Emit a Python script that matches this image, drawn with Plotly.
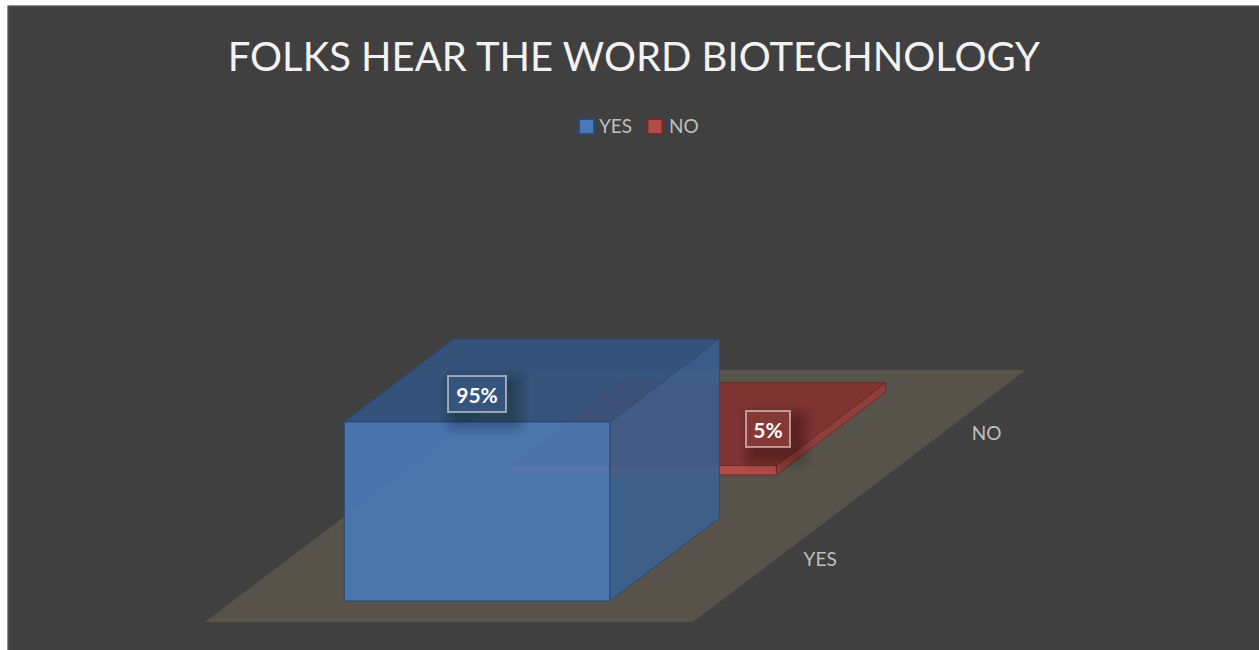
import plotly.graph_objects as go

# chart data
categories = ["YES", "NO"]
values = [95, 5]
labels = ["95%", "5%"]
title_text = "FOLKS HEAR THE WORD BIOTECHNOLOGY"

# colours per series: top, front, side, back, edge
colors = {
    "YES": ["rgba(50,85,132,0.86)", "rgba(73,122,183,0.90)", "rgba(58,97,145,0.88)",
            "rgba(60,100,150,0.05)", "#2C4A73"],
    "NO": ["#7E3432", "#B14C47", "#8E3F3B", "rgba(0,0,0,0)", "#6E2A28"],
}
label_fill = {"YES": "#36557E", "NO": "#863835"}
label_shift = {"YES": (-55, 13), "NO": (70, 5)}
legend_x = {"YES": 586.5, "NO": 655}
legend_text_x = {"YES": 597, "NO": 666.5}

BG = "#404040"
FLOOR = "#57534A"
TEXT = "#BFBFBF"
FONT = "Lato"

# oblique projection of the 3D bar scene onto the picture
ORIGIN = (205, 622)
FLOOR_W = 488
DEPTH = (166.5, -126)
PX_PER_PCT = 1.884
BAR_X = (0.2285, 0.7725)
BAR_D = (0.167, 0.825)


def project(x, d, h=0):
    return (ORIGIN[0] + FLOOR_W * x + DEPTH[0] * d,
            ORIGIN[1] + DEPTH[1] * d - PX_PER_PCT * h)


def face(pts, fill, edge=None, width=1):
    xy = [project(*p) for p in pts + pts[:1]]
    return go.Scatter(
        x=[p[0] for p in xy], y=[p[1] for p in xy],
        mode="lines", fill="toself", fillcolor=fill,
        line=dict(color=edge or "rgba(0,0,0,0)", width=width),
        hoverinfo="skip", showlegend=False,
    )


def bar_faces(i, cat, val):
    x0, x1 = BAR_X
    d0, d1 = i + BAR_D[0], i + BAR_D[1]
    top, front, side, back, edge = colors[cat]
    faint = "rgba(44,74,115,0.25)"
    return [
        face([(x0, d1, 0), (x1, d1, 0), (x1, d1, val), (x0, d1, val)], back, faint),
        face([(x0, d0, 0), (x0, d1, 0), (x0, d1, val), (x0, d0, val)], back, faint),
        face([(x0, d0, 0), (x1, d0, 0), (x1, d1, 0), (x0, d1, 0)], back, faint),
        face([(x0, d0, val), (x1, d0, val), (x1, d1, val), (x0, d1, val)], top, edge),
        face([(x1, d0, 0), (x1, d1, 0), (x1, d1, val), (x1, d0, val)], side, edge),
        face([(x0, d0, 0), (x1, d0, 0), (x1, d0, val), (x0, d0, val)], front, edge),
    ]


def rounded_rect(x0, y0, x1, y1, r):
    return (f"M{x0 + r},{y0} L{x1 - r},{y0} Q{x1},{y0} {x1},{y0 + r} "
            f"L{x1},{y1 - r} Q{x1},{y1} {x1 - r},{y1} L{x0 + r},{y1} "
            f"Q{x0},{y1} {x0},{y1 - r} L{x0},{y0 + r} Q{x0},{y0} {x0 + r},{y0} Z")


fig = go.Figure()

# floor
fig.add_trace(face([(0, 0), (1, 0), (1, 2), (0, 2)], FLOOR))

# far bar first so the near one covers it
for i in reversed(range(len(categories))):
    for tr in bar_faces(i, categories[i], values[i]):
        fig.add_trace(tr)

# category labels beside the floor
cat_xy = [project(1.09, i + 0.5) for i in range(len(categories))]
fig.add_trace(go.Scatter(
    x=[p[0] for p in cat_xy], y=[p[1] + 2.5 for p in cat_xy], text=categories,
    mode="text", textposition="middle center",
    textfont=dict(family=FONT, size=19, color=TEXT),
    hoverinfo="skip", showlegend=False,
))

# legend swatches
for cat in categories:
    fig.add_trace(go.Scatter(
        x=[legend_x[cat]], y=[126.5], mode="markers", name=cat,
        marker=dict(symbol="square", size=15,
                    color=colors[cat][1].replace("0.90", "1"),
                    line=dict(color=colors[cat][4], width=2)),
        hoverinfo="skip", showlegend=False,
    ))
    fig.add_annotation(x=legend_text_x[cat], y=126, text=cat, showarrow=False,
                       xanchor="left", yanchor="middle",
                       font=dict(family=FONT, size=19, color=TEXT))

# chart frame, only the left and top edges show in the picture
shapes = [dict(type="path", layer="above", line=dict(color="#808080", width=1.5),
               path="M7.5,650 L7.5,5.5 L1259,5.5")]

# value labels with their soft shadow
for i, cat in enumerate(categories):
    cx, cy = project(sum(BAR_X) / 2, i + sum(BAR_D) / 2, values[i])
    cx += label_shift[cat][0]
    cy += label_shift[cat][1]
    hw = 23 + 7 * (len(labels[i]) - 2)
    for grow in range(15, -3, -1):
        shapes.append(dict(
            type="path", layer="above", line=dict(width=0),
            fillcolor="rgba(0,0,0,0.013)",
            path=rounded_rect(cx - hw - grow + 8, cy - 19 - grow + 9,
                              cx + hw + grow + 8, cy + 19 + grow + 9, max(grow + 3, 1)),
        ))
    fig.add_annotation(x=cx, y=cy, text=f"<b>{labels[i]}</b>", showarrow=False,
                       width=2 * hw - 4, height=34, align="center", valign="middle",
                       bgcolor=label_fill[cat], bordercolor="rgba(255,255,255,0.5)",
                       borderwidth=2, borderpad=0,
                       font=dict(family=FONT, size=21, color="#FFFFFF"))

fig.update_layout(
    width=1259,
    height=650,
    margin=dict(l=0, r=0, t=0, b=0),
    paper_bgcolor="#FFFFFF",
    plot_bgcolor=BG,
    showlegend=False,
    title=dict(text=title_text, x=0.5035, xanchor="center", xref="paper", y=0.912,
               yanchor="middle", font=dict(family=FONT, size=40, color="#F2F2F2")),
    xaxis=dict(range=[7.5, 1259], visible=False, domain=[7.5 / 1259, 1]),
    yaxis=dict(range=[650, 5.5], visible=False, domain=[0, 1 - 5.5 / 650]),
    shapes=shapes,
)

fig.write_html("out.html", config=dict(displayModeBar=False),
               post_script="document.body.style.margin='0';")
